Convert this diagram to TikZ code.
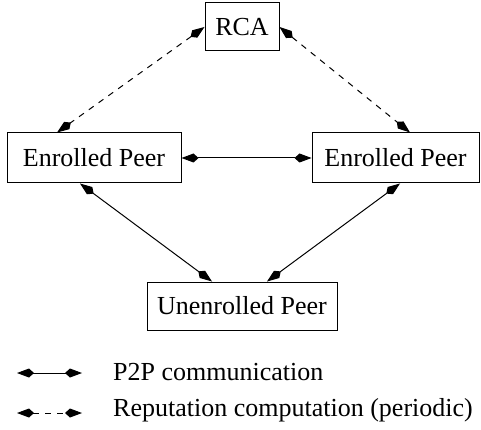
\documentclass[tikz,border=0pt]{standalone}
\usepackage{fontspec}
\setmainfont{Liberation Serif}
\usetikzlibrary{arrows.meta}
\tikzset{kt/.tip={Kite[length=17pt,width=9pt,inset=5pt]}}
\begin{document}
\begin{tikzpicture}[x=1pt,y=-1pt,
  box/.style={draw,line width=1pt,inner sep=0pt,font=\fontsize{26}{30}\selectfont},
  conn/.style={line width=1pt,kt-kt},
  dconn/.style={conn,dash pattern=on 6pt off 6pt},
  lbl/.style={anchor=west,inner sep=0pt,font=\fontsize{26}{30}\selectfont}]
\useasboundingbox (0,0) rectangle (481,430);
\node[box,minimum width=74pt,minimum height=48pt] (rca) at (242,27) {RCA};
\node[box,minimum width=174pt,minimum height=50pt] (epl) at (94,158) {Enrolled Peer};
\node[box,minimum width=167pt,minimum height=50pt] (epr) at (395.5,158) {Enrolled Peer};
\node[box,minimum width=190pt,minimum height=48pt] (unp) at (242,306) {Unenrolled Peer};
\draw[dconn] (rca.west) -- ([xshift=-37pt]epl.north);
\draw[dconn] (rca.east) -- ([xshift=14.5pt]epr.north);
\draw[conn] (epl.east) -- (epr.west);
\draw[conn] ([xshift=-14pt]epl.south) -- ([xshift=-30pt]unp.north);
\draw[conn] ([xshift=4.5pt]epr.south) -- ([xshift=25pt]unp.north);
\coordinate (a1) at (17,373);
\coordinate (b1) at (82,373);
\coordinate (a2) at (17,413);
\coordinate (b2) at (82,413);
\draw[conn] (a1) -- (b1);
\draw[dconn] (a2) -- (b2);
\node[lbl] (t1) at (113,372) {P2P communication};
\node[lbl] (t2) at (113,410) {Reputation computation (periodic)};
\end{tikzpicture}
\end{document}
